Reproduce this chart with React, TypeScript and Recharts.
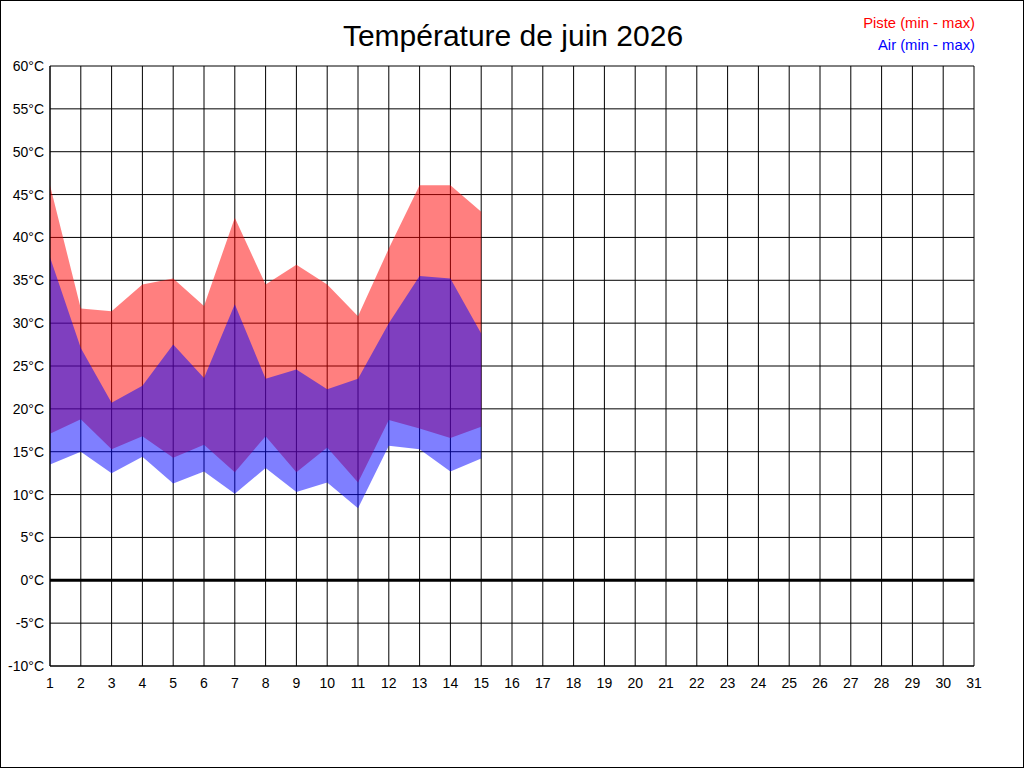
import React from "react";
import { ComposedChart, Area, XAxis, YAxis, CartesianGrid, ReferenceLine } from "recharts";

const title = "Température de juin 2026";
const legendPiste = "Piste (min - max)";
const legendAir = "Air (min - max)";

const days = [1, 2, 3, 4, 5, 6, 7, 8, 9, 10, 11, 12, 13, 14, 15];
const pisteMin = [17.1, 18.8, 15.3, 16.8, 14.3, 15.8, 12.6, 16.8, 12.6, 15.5, 11.4, 18.7, 17.7, 16.6, 17.9];
const pisteMax = [46.1, 31.7, 31.4, 34.5, 35.2, 32.0, 42.3, 34.5, 36.8, 34.5, 30.8, 38.7, 46.1, 46.1, 43.0];
const airMin = [13.5, 15.0, 12.5, 14.4, 11.3, 12.7, 10.1, 13.1, 10.3, 11.4, 8.4, 15.7, 15.3, 12.7, 14.2];
const airMax = [37.7, 27.1, 20.7, 22.7, 27.5, 23.6, 32.2, 23.5, 24.6, 22.3, 23.5, 30.0, 35.5, 35.2, 28.8];

const xTicks = [1, 2, 3, 4, 5, 6, 7, 8, 9, 10, 11, 12, 13, 14, 15, 16, 17, 18, 19, 20, 21, 22, 23, 24, 25, 26, 27, 28, 29, 30, 31];
const yTicks = [-10, -5, 0, 5, 10, 15, 20, 25, 30, 35, 40, 45, 50, 55, 60];

const chartData = days.map((d, i) => ({
  day: d,
  piste: [pisteMin[i], pisteMax[i]],
  air: [airMin[i], airMax[i]],
}));

const FONT = "'Liberation Sans', Arial, sans-serif";

export default function App() {
  return (
    <div style={{ position: "absolute", left: 0, top: 0, width: 1024, height: 768, background: "#fff" }}>
      <ComposedChart
        width={1024}
        height={768}
        data={chartData}
        margin={{ top: 66, right: 50, bottom: 72, left: 0 }}
      >
        <CartesianGrid stroke="#000" strokeWidth={1} />
        <XAxis
          dataKey="day"
          type="number"
          domain={[1, 31]}
          ticks={xTicks}
          interval={0}
          height={30}
          tickLine={false}
          tickSize={0}
          tickMargin={12}
          axisLine={{ stroke: "#000" }}
          tick={{ fill: "#000", fontSize: 14, fontFamily: FONT }}
        />
        <YAxis
          type="number"
          domain={[-10, 60]}
          ticks={yTicks}
          interval={0}
          width={50}
          tickLine={false}
          tickSize={0}
          tickMargin={6}
          axisLine={{ stroke: "#000" }}
          tickFormatter={(v: number) => `${v}°C`}
          tick={{ fill: "#000", fontSize: 14, fontFamily: FONT }}
        />
        <Area
          type="linear"
          dataKey="piste"
          stroke="none"
          fill="#ff0000"
          fillOpacity={0.5}
          dot={false}
          activeDot={false}
          isAnimationActive={false}
        />
        <Area
          type="linear"
          dataKey="air"
          stroke="none"
          fill="#0000ff"
          fillOpacity={0.5}
          dot={false}
          activeDot={false}
          isAnimationActive={false}
        />
        <ReferenceLine y={0} stroke="#000" strokeWidth={3} />
      </ComposedChart>
      <svg
        width={1024}
        height={768}
        style={{ position: "absolute", left: 0, top: 0, pointerEvents: "none" }}
      >
        <rect x={0.5} y={0.5} width={1023} height={767} fill="none" stroke="#000" strokeWidth={1} />
        <text x={513} y={46} textAnchor="middle" fontSize={30} fontFamily={FONT} fill="#000">
          {title}
        </text>
        <text x={975} y={28} textAnchor="end" fontSize={14.8} fontFamily={FONT} fill="#ff0000">
          {legendPiste}
        </text>
        <text x={975} y={50} textAnchor="end" fontSize={14.8} fontFamily={FONT} fill="#0000ff">
          {legendAir}
        </text>
      </svg>
    </div>
  );
}
